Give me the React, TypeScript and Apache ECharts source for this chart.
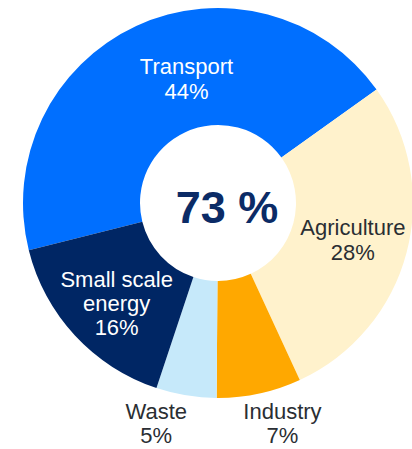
import React, { useEffect, useRef } from "react";
import * as echarts from "echarts";

const categories = ["Transport", "Agriculture", "Industry", "Waste", "Small scale\nenergy"];
const values = [44, 28, 7, 5, 16];
const colors = ["#006FFF", "#FFF2CC", "#FFA800", "#C6E9FA", "#002664"];
const labelColors = ["#FFFFFF", "#2A2E33", "#2A2E33", "#2A2E33", "#FFFFFF"];
const centerLabel = "73 %";

// label offsets from ECharts' natural inside position
const labelShift: [number, number][] = [
  [27, 3],
  [0, 1],
  [35, 84],
  [-39, 83],
  [1, 6],
];
const labelLineHeights = [25, 25, 24, 24, 24];

export default function App() {
  const ref = useRef<HTMLDivElement>(null);
  useEffect(() => {
    document.body.style.margin = "0";
    const chart = echarts.init(ref.current!, undefined, { renderer: "svg" });
    chart.setOption({
      animation: false,
      backgroundColor: "#FFFFFF",
      textStyle: { fontFamily: "Liberation Sans, Arial, sans-serif" },
      graphic: [
        {
          type: "text",
          x: 227,
          y: 207,
          style: {
            text: centerLabel,
            fill: "#0B2B66",
            font: "bold 45px 'Liberation Sans', Arial, sans-serif",
            textAlign: "center",
            textVerticalAlign: "middle",
          },
          z: 10,
        },
      ],
      series: [
        {
          type: "pie",
          center: [218, 203],
          radius: [78, 195],
          startAngle: 194,
          clockwise: true,
          avoidLabelOverlap: false,
          itemStyle: { borderWidth: 0 },
          emphasis: { disabled: true },
          label: {
            show: true,
            position: "inside",
            formatter: (p: any) => `${p.name}\n${p.value}%`,
            fontSize: 22,
            lineHeight: 25,
            fontFamily: "Liberation Sans, Arial, sans-serif",
            align: "center",
          },
          labelLine: { show: false },
          labelLayout: (p: any) => {
            const s = labelShift[p.dataIndex] || [0, 0];
            return { dx: s[0], dy: s[1] };
          },
          data: categories.map((name, i) => ({
            name,
            value: values[i],
            itemStyle: { color: colors[i] },
            label: { color: labelColors[i], lineHeight: labelLineHeights[i] },
          })),
        },
      ],
    });
    return () => chart.dispose();
  }, []);
  return <div ref={ref} style={{ width: 412, height: 449 }} />;
}
